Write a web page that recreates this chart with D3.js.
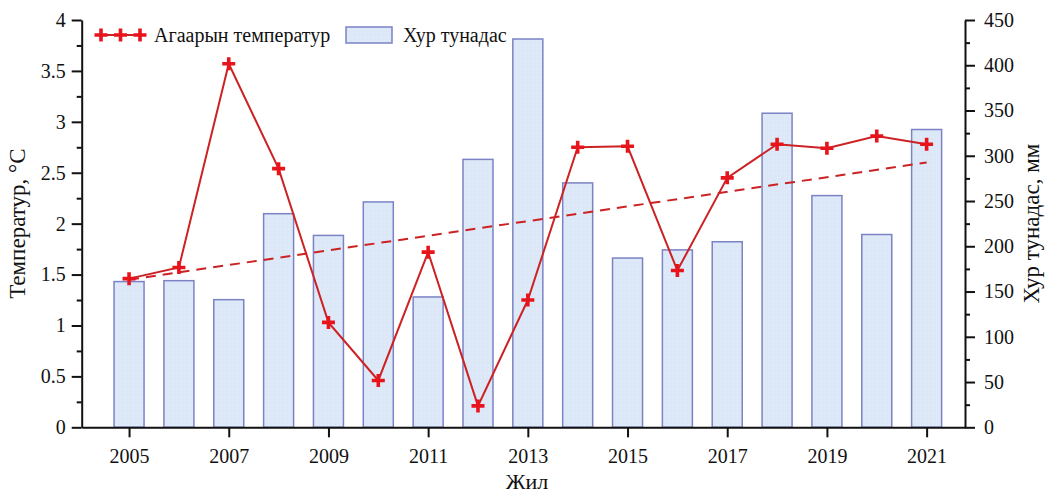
<!DOCTYPE html>
<html>
<head>
<meta charset="utf-8">
<script src="https://cdn.jsdelivr.net/npm/d3@7"></script>
<style>
  html, body { margin: 0; padding: 0; background: #fff; }
  svg { display: block; }
  svg text { font-family: "Liberation Serif", "Times New Roman", Times, "DejaVu Serif", serif !important; fill: #111; }
</style>
</head>
<body>
<svg id="chart" width="1047" height="493"></svg>
<script>
// ---- data ----
const years = [2005, 2006, 2007, 2008, 2009, 2010, 2011, 2012, 2013, 2014, 2015, 2016, 2017, 2018, 2019, 2020, 2021];
const temperature = [1.46, 1.57, 3.57, 2.54, 1.03, 0.46, 1.72, 0.21, 1.25, 2.75, 2.76, 1.54, 2.45, 2.78, 2.74, 2.86, 2.78];
const precipitation = [161, 162, 141, 236, 212, 249, 144, 296, 429, 270, 187, 196, 205, 347, 256, 213, 329];
const trendYears = [2005, 2021];
const trendValues = [1.45, 2.6];
const xTickYears = [2005, 2007, 2009, 2011, 2013, 2015, 2017, 2019, 2021];
const tempTicks = [0, 0.5, 1, 1.5, 2, 2.5, 3, 3.5, 4];
const precTicks = [0, 50, 100, 150, 200, 250, 300, 350, 400, 450];
const labels = {
  temp: "Агаарын температур",
  prec: "Хур тунадас",
  yLeft: "Температур, °C",
  yRight: "Хур тунадас, мм",
  x: "Жил"
};

// ---- layout ----
const FONT = '"Liberation Serif", "Times New Roman", Times, "DejaVu Serif", serif';
const svg = d3.select("#chart");
const mLeft = 81.7, mRight = 965, mTop = 20, mBottom = 427.3;

const x = d3.scaleLinear().domain([2004.05, 2021.77]).range([mLeft, mRight]);
const yT = d3.scaleLinear().domain([0, 4]).range([mBottom, mTop]);
const yP = d3.scaleLinear().domain([0, 450]).range([mBottom, mTop]);
const barW = 30;

const lineColor = "#cc2224";
const markerColor = "#e8141c";
const barFill = "#dce8f8";
const barStroke = "#7b83c4";

// dotted bar pattern
const defs = svg.append("defs");
const pat = defs.append("pattern").attr("id", "dots").attr("patternUnits", "userSpaceOnUse")
  .attr("width", 4).attr("height", 4);
pat.append("rect").attr("width", 4).attr("height", 4).attr("fill", barFill);
pat.append("circle").attr("cx", 1).attr("cy", 1).attr("r", 0.6).attr("fill", "#eef4fc");

// bars
svg.append("g").selectAll("rect").data(years).join("rect")
  .attr("x", (d) => x(d) - barW / 2)
  .attr("y", (d, i) => yP(precipitation[i]))
  .attr("width", barW)
  .attr("height", (d, i) => yP(0) - yP(precipitation[i]))
  .attr("fill", "url(#dots)")
  .attr("stroke", barStroke)
  .attr("stroke-width", 1.5);

// trend line
svg.append("path")
  .datum(trendYears.map((d, i) => [d, trendValues[i]]))
  .attr("d", d3.line().x((d) => x(d[0])).y((d) => yT(d[1])))
  .attr("fill", "none")
  .attr("stroke", lineColor)
  .attr("stroke-width", 2)
  .attr("stroke-dasharray", "10,7");

// temperature line
svg.append("path")
  .datum(years.map((d, i) => [d, temperature[i]]))
  .attr("d", d3.line().x((d) => x(d[0])).y((d) => yT(d[1])))
  .attr("fill", "none")
  .attr("stroke", lineColor)
  .attr("stroke-width", 2);

function plusMarker(g, cx, cy) {
  const s = 6.5;
  g.append("path")
    .attr("d", `M${cx - s},${cy}H${cx + s}M${cx},${cy - s}V${cy + s}`)
    .attr("stroke", markerColor)
    .attr("stroke-width", 3.6)
    .attr("fill", "none");
}
const mg = svg.append("g");
years.forEach((d, i) => plusMarker(mg, x(d), yT(temperature[i])));

// axes
function styleAxis(g) {
  g.attr("font-family", FONT);
  g.select(".domain").attr("stroke", "#111").attr("stroke-width", 2);
  g.selectAll(".tick line").attr("stroke", "#111").attr("stroke-width", 2);
  g.selectAll(".tick text").attr("font-size", 20).attr("font-family", FONT).attr("fill", "#111");
}

// minor ticks left
const minorT = d3.range(0.25, 4, 0.5);
svg.append("g").attr("transform", `translate(${mLeft},0)`)
  .call(d3.axisLeft(yT).tickValues(minorT).tickSize(5).tickFormat(""))
  .call((g) => { g.select(".domain").remove(); g.selectAll("line").attr("stroke", "#111").attr("stroke-width", 2); });
svg.append("g").attr("transform", `translate(${mLeft},0)`)
  .call(d3.axisLeft(yT).tickValues(tempTicks).tickSize(10).tickSizeOuter(0).tickPadding(6).tickFormat(d3.format("~g")))
  .call(styleAxis);

// minor ticks right
const minorP = d3.range(25, 450, 50);
svg.append("g").attr("transform", `translate(${mRight},0)`)
  .call(d3.axisRight(yP).tickValues(minorP).tickSize(5).tickFormat(""))
  .call((g) => { g.select(".domain").remove(); g.selectAll("line").attr("stroke", "#111").attr("stroke-width", 2); });
svg.append("g").attr("transform", `translate(${mRight},0)`)
  .call(d3.axisRight(yP).tickValues(precTicks).tickSize(10).tickSizeOuter(0).tickPadding(9))
  .call(styleAxis);

// bottom axis
svg.append("g").attr("transform", `translate(0,${mBottom})`)
  .call(d3.axisBottom(x).tickValues(xTickYears).tickSize(10).tickSizeOuter(0).tickPadding(12).tickFormat(d3.format("d")))
  .call(styleAxis);

// axis titles
svg.append("text").attr("transform", `translate(25,${(mTop + mBottom) / 2}) rotate(-90)`)
  .attr("text-anchor", "middle").attr("font-size", 23).attr("font-family", FONT).text(labels.yLeft);
svg.append("text").attr("transform", `translate(1039,${(mTop + mBottom) / 2}) rotate(-90)`)
  .attr("text-anchor", "middle").attr("font-size", 23).attr("font-family", FONT).text(labels.yRight);
svg.append("text").attr("x", 527).attr("y", 489)
  .attr("text-anchor", "middle").attr("font-size", 22).attr("font-family", FONT).text(labels.x);

// legend
const lg = svg.append("g").attr("font-family", FONT);
lg.append("line").attr("x1", 97).attr("x2", 144).attr("y1", 35).attr("y2", 35)
  .attr("stroke", lineColor).attr("stroke-width", 2);
[101, 120.5, 140].forEach((cx) => plusMarker(lg, cx, 35));
lg.append("text").attr("x", 154).attr("y", 35).attr("dy", "0.35em").attr("font-size", 20).text(labels.temp);
lg.append("rect").attr("x", 346).attr("y", 27).attr("width", 46).attr("height", 16)
  .attr("fill", "url(#dots)").attr("stroke", barStroke).attr("stroke-width", 1.5);
lg.append("text").attr("x", 403).attr("y", 35).attr("dy", "0.35em").attr("font-size", 20).text(labels.prec);
</script>
</body>
</html>
